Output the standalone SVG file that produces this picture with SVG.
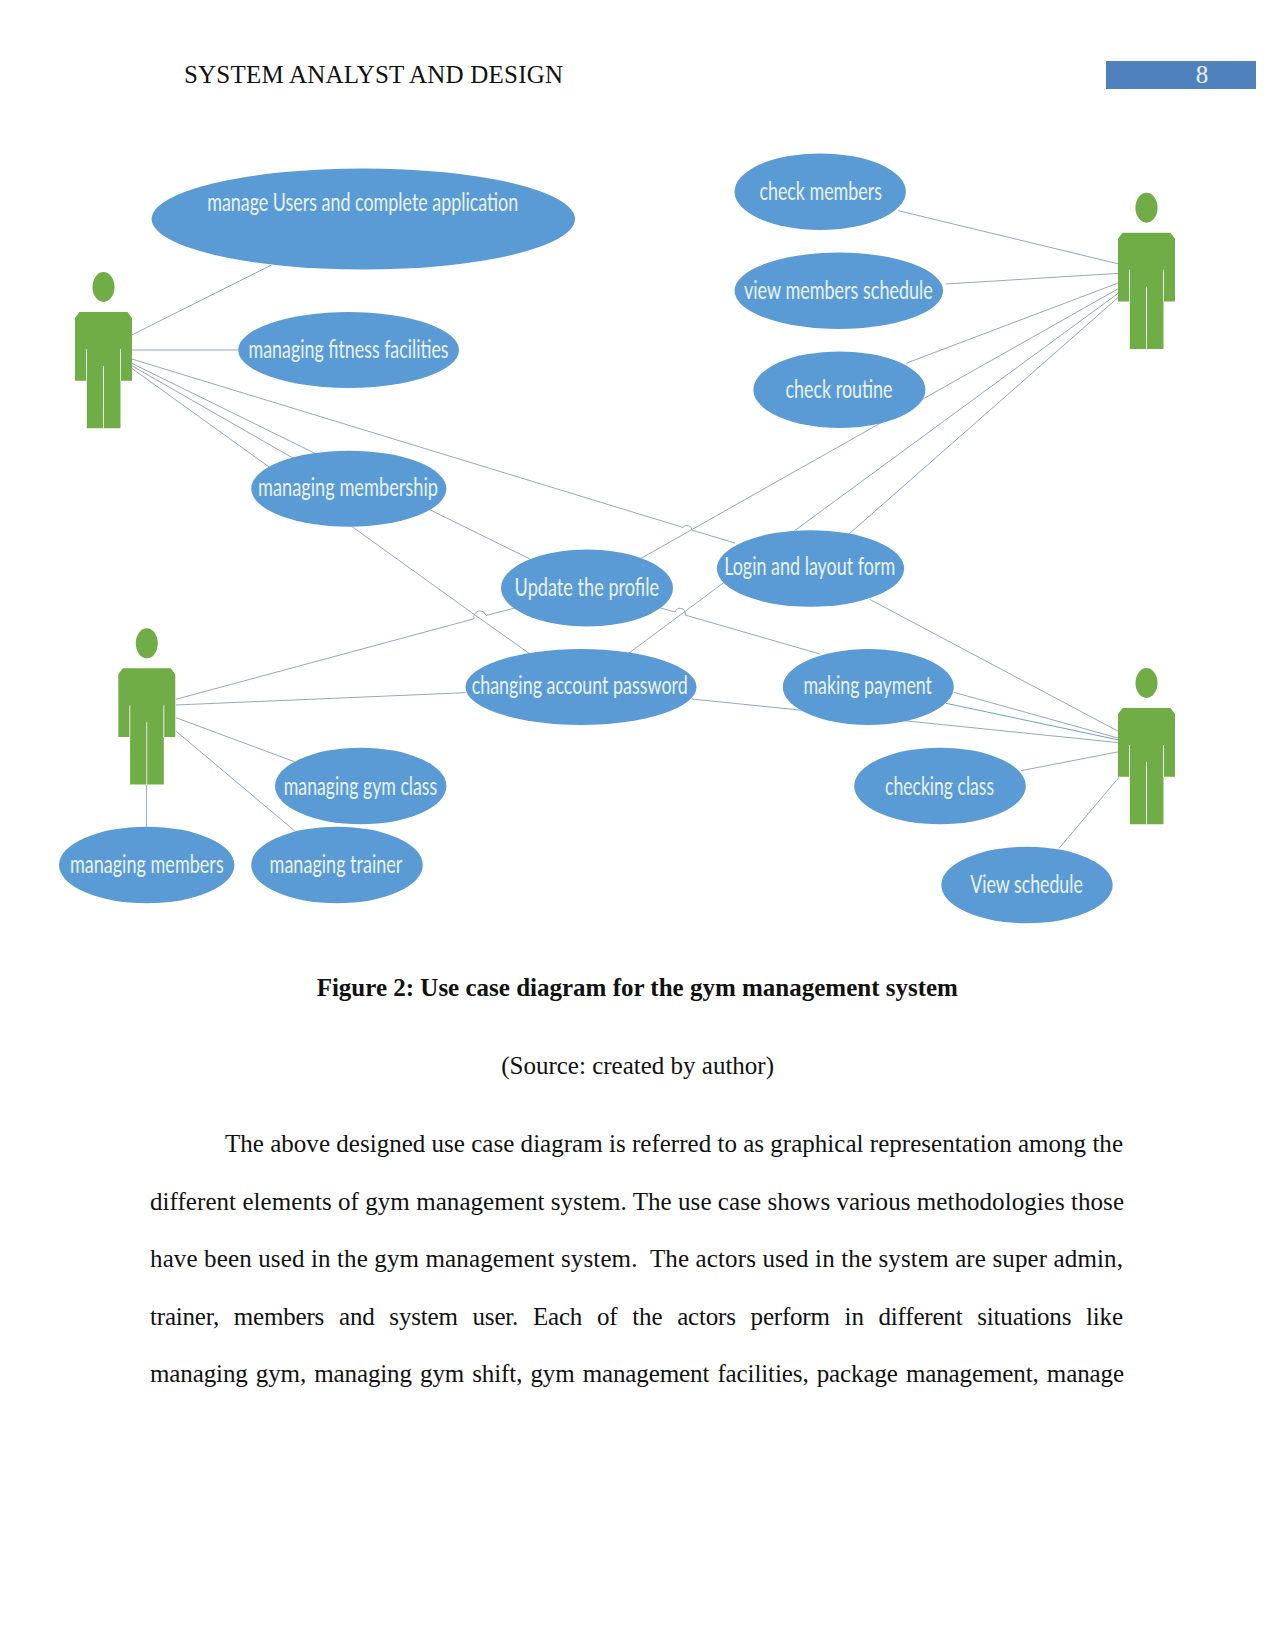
<svg xmlns="http://www.w3.org/2000/svg" width="1275" height="1651" viewBox="0 0 1275 1651">
<style>
.uc{fill:#5b9bd5}
.ul{font-family:Lato,"Open Sans",sans-serif;font-size:25px;fill:#e8f3fb}
.conn{fill:none;stroke:#97a8bd;stroke-width:1}
.actor-fill{fill:#70ad47}
.seam{fill:none;stroke:#e4efdc;stroke-width:1}
.doc{font-family:"Liberation Serif",serif;font-size:25px;fill:#111;white-space:pre}
</style>
<defs>
<g id="actor">
<ellipse class="actor-fill" cx="0" cy="0" rx="11" ry="15"/>
<path class="actor-fill" d="M-24,25H24L28.5,31V93.7H17V141.3H-16.7V93.7H-28.5V31Z"/>
<path class="seam" d="M-17,62V94M17,62V94M0,79V141"/>
</g>
</defs>
<rect width="1275" height="1651" fill="#fff"/>
<g id="header">
<text class="doc" x="184" y="83" textLength="379" lengthAdjust="spacing">SYSTEM ANALYST AND DESIGN</text>
<rect x="1106" y="61" width="150" height="28" fill="#4f81bd"/>
<text x="1202" y="83" text-anchor="middle" style="font-family:'Liberation Serif',serif;font-size:25px;fill:#eaf1f8">8</text>
</g>
<g id="connectors">
<path class="conn" d="M131.8,335L271.5,265"/>
<path class="conn" d="M131.8,350H238.2"/>
<path class="conn" d="M131.8,359L683,527.4A5,5 0 0 1 692,530.2L735,543"/>
<path class="conn" d="M131.8,363.3L530,559"/>
<path class="conn" d="M131.8,365.7L340,485"/>
<path class="conn" d="M131.8,368.3L475,615"/>
<path class="conn" d="M475,615L530,654"/>
<path class="conn" d="M1119,264L898.3,210.7"/>
<path class="conn" d="M1119,273.3L946,284"/>
<path class="conn" d="M1119,282.7L906,363.3"/>
<path class="conn" d="M1119,288.3L600,581.5"/>
<path class="conn" d="M1119,292.7L775,545"/>
<path class="conn" d="M1119,296.7L836.5,545"/>
<path class="conn" d="M1119,731.7L869.6,599.3"/>
<path class="conn" d="M1119,738.3L953.8,692.3"/>
<path class="conn" style="stroke:#6f9fd0" d="M1119,740L946,703.3"/>
<path class="conn" d="M1119,742.7L691.7,699"/>
<path class="conn" d="M1119,751.7L1020.8,770.7"/>
<path class="conn" d="M1119,777.3L1059,848.3"/>
<path class="conn" d="M175.9,699.3L474,618.8A6,6 0 0 1 486,615.5L515,608"/>
<path class="conn" d="M175.9,705L465.6,692.7"/>
<path class="conn" d="M175.9,717.7L294.5,761.7"/>
<path class="conn" d="M175.9,731L295.6,831.7"/>
<path class="conn" d="M146.4,785V826.7"/>
<path class="conn" d="M650,605L675,612A5,5 0 0 1 685,615L820,654"/>
<path class="conn" d="M730,578L625,656"/>
</g>
<g id="manage-users"><ellipse class="uc" cx="363.3" cy="219" rx="211.7" ry="50.5"/><text class="ul" x="207.2" y="211" textLength="311" lengthAdjust="spacingAndGlyphs">manage Users and complete application</text></g>
<g id="managing-fitness"><ellipse class="uc" cx="348.6" cy="350" rx="110.4" ry="38"/><text class="ul" x="248.6" y="357.6" textLength="200" lengthAdjust="spacingAndGlyphs">managing fitness facilities</text></g>
<g id="managing-membership"><ellipse class="uc" cx="348.8" cy="488.7" rx="97.6" ry="38"/><text class="ul" x="258" y="496.4" textLength="180" lengthAdjust="spacingAndGlyphs">managing membership</text></g>
<g id="check-members"><ellipse class="uc" cx="820.2" cy="191.7" rx="85.7" ry="38.3"/><text class="ul" x="759.4" y="200" textLength="122.5" lengthAdjust="spacingAndGlyphs">check members</text></g>
<g id="view-members-schedule"><ellipse class="uc" cx="838.8" cy="290.8" rx="104.3" ry="38.2"/><text class="ul" x="744" y="298.7" textLength="188.8" lengthAdjust="spacingAndGlyphs">view members schedule</text></g>
<g id="check-routine"><ellipse class="uc" cx="839.4" cy="389.7" rx="86" ry="38.3"/><text class="ul" x="785.4" y="397.7" textLength="107.2" lengthAdjust="spacingAndGlyphs">check routine</text></g>
<g id="login"><ellipse class="uc" cx="810.5" cy="568.5" rx="93.6" ry="38.3"/><text class="ul" x="724.2" y="575" textLength="171" lengthAdjust="spacingAndGlyphs">Login and layout form</text></g>
<g id="update-profile"><ellipse class="uc" cx="587" cy="588" rx="86" ry="38.4"/><text class="ul" x="514.6" y="595.7" textLength="144.5" lengthAdjust="spacingAndGlyphs">Update the profile</text></g>
<g id="changing-password"><ellipse class="uc" cx="581" cy="687" rx="115.5" ry="38"/><text class="ul" x="471.7" y="693.7" textLength="216" lengthAdjust="spacingAndGlyphs">changing account password</text></g>
<g id="making-payment"><ellipse class="uc" cx="868.3" cy="687" rx="85.5" ry="38"/><text class="ul" x="803.4" y="693.7" textLength="128.6" lengthAdjust="spacingAndGlyphs">making payment</text></g>
<g id="checking-class"><ellipse class="uc" cx="940" cy="786" rx="85.8" ry="38.3"/><text class="ul" x="885" y="794.7" textLength="109" lengthAdjust="spacingAndGlyphs">checking class</text></g>
<g id="view-schedule"><ellipse class="uc" cx="1027" cy="885" rx="85.7" ry="38.3"/><text class="ul" x="970.3" y="893" textLength="112.5" lengthAdjust="spacingAndGlyphs">View schedule</text></g>
<g id="managing-gym-class"><ellipse class="uc" cx="360.7" cy="786" rx="85.7" ry="38.3"/><text class="ul" x="283.8" y="794.7" textLength="153.4" lengthAdjust="spacingAndGlyphs">managing gym class</text></g>
<g id="managing-members"><ellipse class="uc" cx="146.7" cy="865" rx="87.7" ry="38.3"/><text class="ul" x="69.9" y="873.4" textLength="153.8" lengthAdjust="spacingAndGlyphs">managing members</text></g>
<g id="managing-trainer"><ellipse class="uc" cx="337" cy="865" rx="85.8" ry="38.3"/><text class="ul" x="269.6" y="873.4" textLength="132.8" lengthAdjust="spacingAndGlyphs">managing trainer</text></g>
<g id="actor-1"><use href="#actor" x="103.5" y="287"/></g>
<g id="actor-2"><use href="#actor" x="1146.5" y="207.7"/></g>
<g id="actor-3"><use href="#actor" x="146.8" y="643.3"/></g>
<g id="actor-4"><use href="#actor" x="1146.5" y="683"/></g>
<g id="document-text">
<text class="doc" x="637.3" y="996" text-anchor="middle" font-weight="bold">Figure 2: Use case diagram for the gym management system</text>
<text class="doc" x="637.6" y="1074" text-anchor="middle">(Source: created by author)</text>
<text class="doc" x="225" y="1152" textLength="898" lengthAdjust="spacing">The above designed use case diagram is referred to as graphical representation among the</text>
<text class="doc" x="150" y="1210" textLength="974" lengthAdjust="spacing">different elements of gym management system. The use case shows various methodologies those</text>
<text class="doc" x="150" y="1267" textLength="973" lengthAdjust="spacing">have been used in the gym management system.  The actors used in the system are super admin,</text>
<text class="doc" x="150" y="1325" textLength="973" lengthAdjust="spacing" word-spacing="8.8">trainer, members and system user. Each of the actors perform in different situations like</text>
<text class="doc" x="150" y="1382" textLength="974" lengthAdjust="spacing" word-spacing="2">managing gym, managing gym shift, gym management facilities, package management, manage</text>
</g>
</svg>
